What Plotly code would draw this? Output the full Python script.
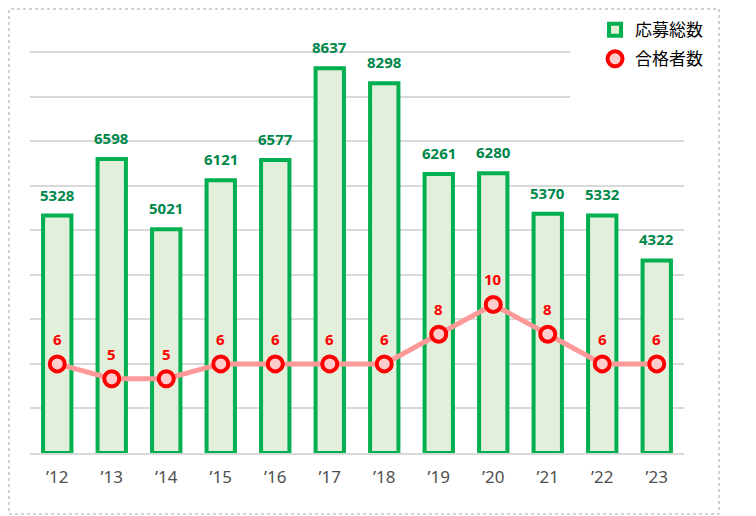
import plotly.graph_objects as go

# data
years = ["’12", "’13", "’14", "’15", "’16", "’17", "’18", "’19", "’20", "’21", "’22", "’23"]
applicants = [5328, 6598, 5021, 6121, 6577, 8637, 8298, 6261, 6280, 5370, 5332, 4322]
passed = [6, 5, 5, 6, 6, 6, 6, 8, 10, 8, 6, 6]

num_font = "Noto Sans"
jp_font = "Noto Sans CJK JP"

fig = go.Figure()

# total applicants (bars, left axis)
fig.add_trace(go.Bar(
    x=years, y=applicants, name="応募総数", legendgroup="a",
    marker=dict(color="#E2EFDA", line=dict(color="#00B050", width=4)),
    width=0.52,
))

# successful applicants: line (no legend) + markers
fig.add_trace(go.Scatter(
    x=years, y=passed, yaxis="y2", mode="lines", showlegend=False,
    line=dict(color="#FF9999", width=5), hoverinfo="skip",
))
fig.add_trace(go.Scatter(
    x=years, y=passed, yaxis="y2", mode="markers", name="合格者数",
    legendgroup="b",
    marker=dict(size=15, color="#FFCCCC", line=dict(color="#FF0000", width=4)),
))

# value labels above the bars
for yr, val in zip(years, applicants):
    fig.add_annotation(
        x=yr, y=val, xref="x", yref="y", text=str(val), showarrow=False,
        yanchor="bottom", yshift=9,
        font=dict(family=num_font, size=15, color="#00874A", weight="bold"),
    )

# labels above the markers
for yr, val in zip(years, passed):
    fig.add_annotation(
        x=yr, y=val, xref="x", yref="y2", text=str(val), showarrow=False,
        yshift=25, font=dict(family=num_font, size=15, color="#FF0000", weight="bold"),
    )

fig.update_layout(
    width=756, height=516,
    margin=dict(l=22, r=80, t=42, b=71, autoexpand=False),
    paper_bgcolor="white", plot_bgcolor="white",
    showlegend=True,
    legend=dict(
        x=0.864, y=1.094, xanchor="left", yanchor="top",
        font=dict(family=jp_font, size=17, color="#000000"),
        bgcolor="rgba(0,0,0,0)", itemwidth=30,
        traceorder="grouped", tracegroupgap=4,
    ),
    xaxis=dict(
        range=[-0.5, len(years) - 0.5],
        showline=True, linecolor="#D9D9D9", linewidth=2,
        ticks="", tickfont=dict(family=num_font, size=17, color="#505050"),
        ticklabelstandoff=8,
    ),
    yaxis=dict(
        range=[0, 9045], dtick=1000, showticklabels=False,
        gridcolor="#D9D9D9", gridwidth=1.5, zeroline=False,
    ),
    yaxis2=dict(
        range=[0, 27.135], dtick=3, overlaying="y", side="right",
        showticklabels=False, showgrid=False, zeroline=False,
    ),
    shapes=[
        # white box that hides gridlines behind the legend
        dict(type="rect", xref="paper", yref="paper", layer="above",
             x0=0.8257, x1=1.0, y0=0.861, y1=1.03,
             fillcolor="white", line=dict(width=0)),
        # dotted outer border
        dict(type="rect", xref="paper", yref="paper", layer="above",
             x0=-0.0321, x1=1.0535, y0=-0.1514, y1=1.1017,
             line=dict(color="#A6A6A6", width=1, dash="dot")),
    ],
)

fig.write_html("out.html")
